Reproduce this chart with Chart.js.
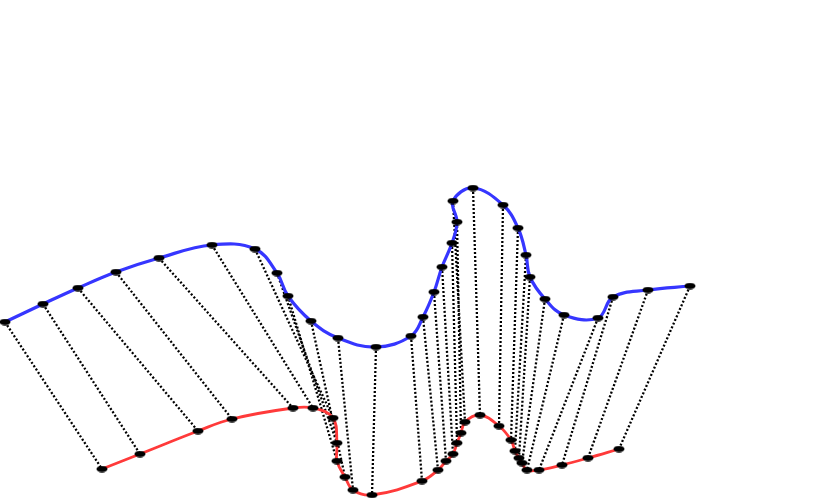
<!DOCTYPE html>
<html>
<head>
<meta charset="utf-8">
<script src="https://cdn.jsdelivr.net/npm/chart.js@4/dist/chart.umd.min.js"></script>
<style>
  html, body { margin: 0; padding: 0; background: #ffffff; }
  #wrap { width: 830px; height: 498px; position: relative; }
</style>
</head>
<body>
<div id="wrap"><canvas id="c"></canvas></div>
<script>
// Upper (blue) series: horizontal position and value
const blueX = [5, 43, 78, 116, 159, 212, 255, 277, 288, 311, 338, 376, 411, 423, 434, 442, 452, 457, 453, 473, 503, 518, 526, 530, 545, 564, 598, 613, 648, 690];
const blueY = [176, 194, 210, 226, 240, 253, 249, 225, 202, 177, 160, 151, 162, 181, 206, 231, 255, 276, 297, 310, 293, 270, 243, 221, 199, 183, 180, 201, 208, 212];
// Lower (red) series
const redX = [102, 140, 198, 232, 293, 313, 333, 337, 337, 345, 353, 372, 422, 438, 446, 453, 457, 461, 465, 480, 499, 511, 515, 519, 522, 527, 539, 562, 588, 619];
const redY = [29, 44, 67, 79, 90, 90, 80, 55, 37, 21, 8, 3, 17, 28, 37, 44, 55, 65, 76, 83, 72, 58, 47, 40, 35, 28, 28, 33, 40, 49];

// elliptical marker
const marker = document.createElement('canvas');
marker.width = 12; marker.height = 7;
(function () {
  const g = marker.getContext('2d');
  g.fillStyle = '#000';
  g.beginPath();
  g.ellipse(6, 3.5, 5.5, 3.3, 0, 0, Math.PI * 2);
  g.fill();
})();

const bluePts = blueX.map((x, i) => ({ x: x, y: blueY[i] }));
const redPts = redX.map((x, i) => ({ x: x, y: redY[i] }));
const links = [];
for (let i = 0; i < blueX.length; i++) {
  links.push({ x: blueX[i], y: blueY[i] });
  links.push({ x: redX[i], y: redY[i] });
  links.push({ x: NaN, y: NaN });
}

new Chart(document.getElementById('c'), {
  type: 'scatter',
  data: {
    datasets: [
      {
        data: bluePts, showLine: true, borderColor: '#3636ff', borderWidth: 3.2,
        tension: 0.4, pointStyle: marker, pointRadius: 5, clip: false, order: 1
      },
      {
        data: redPts, showLine: true, borderColor: '#ff3a3a', borderWidth: 2.8,
        tension: 0.4, pointStyle: marker, pointRadius: 5, clip: false, order: 2
      },
      {
        data: links, showLine: true, borderColor: '#000000', borderWidth: 2.3,
        borderDash: [2, 2], tension: 0, pointRadius: 0, spanGaps: false, clip: false, order: 3
      }
    ]
  },
  options: {
    responsive: true,
    maintainAspectRatio: false,
    animation: false,
    layout: { padding: 0, autoPadding: false },
    plugins: { legend: { display: false }, tooltip: { enabled: false } },
    events: [],
    scales: {
      x: { type: 'linear', min: 0, max: 830, display: false },
      y: { type: 'linear', min: 0, max: 498, display: false }
    }
  }
});
</script>
</body>
</html>
